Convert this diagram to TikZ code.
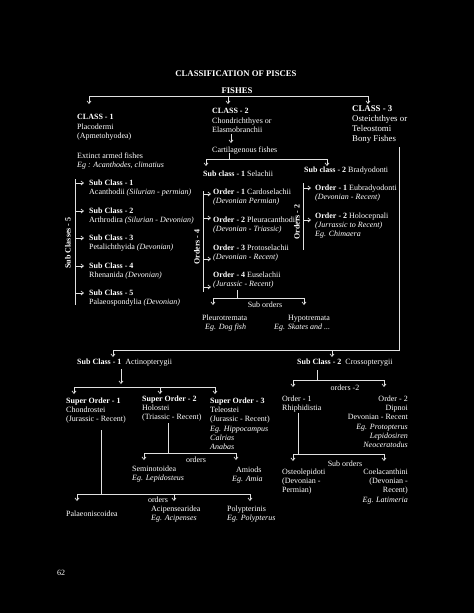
\documentclass[tikz,border=0pt]{standalone}
\usepackage{fontspec}
\setmainfont{Liberation Serif}
\usetikzlibrary{arrows.meta}
\begin{document}
\begin{tikzpicture}[x=1pt,y=-1pt,
 txt/.style={text=white,inner sep=0pt,font=\fontsize{8}{9.3}\selectfont,anchor=north west,yshift=6.51pt,align=left,execute at begin node={\strut}},
 txtr/.style={txt,anchor=north east,align=right},
 txtc/.style={txt,anchor=north,align=center},
 ttl/.style={txtc,font=\fontsize{8.7}{10}\selectfont\bfseries,yshift=0.49pt},
 rot/.style={text=white,inner sep=0pt,anchor=center,rotate=90,font=\fontsize{8}{9.3}\selectfont\bfseries},
 ln/.style={draw=white!88!black,line width=0.7pt},
 arr/.style={ln,-{Straight Barb[length=2.5pt,width=4pt]}},
]
\fill[black] (0,0) rectangle (474,613);
\useasboundingbox (0,0) rectangle (474,613);

% ---------- title ----------
\node[ttl] (title) at (236,76) {CLASSIFICATION OF PISCES};
\node[ttl] (fishes) at (237,93) {FISHES};

\coordinate (fL) at (89,96); \coordinate (fM) at (228,96); \coordinate (fR) at (368,96);
\coordinate (fLe) at (89,104); \coordinate (fMe) at (228,104); \coordinate (fRe) at (368,104);
\draw[ln] (fL) -- (fR);
\draw[arr] (fL) -- (fLe);
\draw[arr] (fM) -- (fMe);
\draw[arr] (fR) -- (fRe);

% ---------- class 1 ----------
\node[txt] (c1) at (77,121) {\textbf{CLASS - 1}\\Placodermi\\(Apmetohyodea)};
\node[txt] (c1x) at (77,159) {Extinct armed fishes\\\textit{Eg : Acanthodes, climatius}};

\coordinate (scT) at (75,179); \coordinate (scB) at (75,305);
\draw[ln] (scT) -- (scB);
\node[rot] (scl) at (68,243) {Sub Classes - 5};
\foreach \i/\y/\a/\b in {1/183/Acanthodii/Silurian - permian,
                         2/211/Arthrodira/Silurian - Devonian,
                         3/238/Petalichthyida/Devonian,
                         4/266/Rhenanida/Devonian,
                         5/293/Palaeospondylia/Devonian}{
  \coordinate (sa\i) at (75,\y);
  \coordinate (sb\i) at (84,\y);
  \node[txt] (sc\i) at (89,\y+3) {\textbf{Sub Class - \i}\\\a\ \textit{(\b)}};
  \draw[arr] (sa\i) -- (sb\i);
}

% ---------- class 2 ----------
\node[txt] (c2) at (212,115) {\textbf{CLASS - 2}\\Chondrichthyes or\\Elasmobranchii};
\node[txt] (cart) at (212,152) {Cartilagenous fishes};
\coordinate (c2a) at (231,134); \coordinate (c2b) at (231,143);
\draw[arr] (c2a) -- (c2b);
\coordinate (ct) at (229,153); \coordinate (cm) at (229,159);
\coordinate (cL) at (206,159); \coordinate (cR) at (327,159);
\coordinate (cLe) at (206,166); \coordinate (cRe) at (327,166);
\draw[ln] (ct) -- (cm);
\draw[ln] (cL) -- (cR);
\draw[arr] (cL) -- (cLe);
\draw[arr] (cR) -- (cRe);

\node[txt] (sel) at (203,176) {\textbf{Sub class - 1} Selachii};
\node[txt] (bra) at (304,172) {\textbf{Sub class - 2} Bradyodonti};

% orders 4
\coordinate (o4T) at (203,191); \coordinate (o4B) at (203,292);
\draw[ln] (o4T) -- (o4B);
\node[rot] (o4l) at (197,247) {Orders - 4};
\node[txt] (o41) at (213,195) {\textbf{Order - 1} Cardoselachii\\\textit{(Devonian Permian)}};
\node[txt] (o42) at (213,223) {\textbf{Order - 2} Pleuracanthodii\\\textit{(Devonian - Triassic)}};
\node[txt] (o43) at (213,251) {\textbf{Order - 3} Protoselachii\\\textit{(Devonian - Recent)}};
\node[txt] (o44) at (213,278) {\textbf{Order - 4} Euselachii\\\textit{(Jurassic - Recent)}};
\foreach \y in {194,218,259,287}{\draw[arr] (203,\y) -- (211,\y);}

% sub orders selachii
\coordinate (soT) at (237,290); \coordinate (soM) at (237,298);
\coordinate (soL) at (213,298); \coordinate (soR) at (304,298);
\coordinate (soLe) at (213,305); \coordinate (soRe) at (304,305);
\draw[ln] (soT) -- (soM);
\draw[ln] (soL) -- (soR);
\draw[arr] (soL) -- (soLe);
\draw[arr] (soR) -- (soRe);
\node[txtc] (sol) at (265,307) {Sub orders};
\node[txt] (pleu) at (202,320) {Pleurotremata};
\node[txt] (pleue) at (205,329) {\textit{Eg. Dog fish}};
\node[txt] (hypo) at (288,320) {Hypotremata};
\node[txt] (hypoe) at (274,329) {\textit{Eg. Skates and ...}};

% orders 2 (Bradyodonti)
\coordinate (o2T) at (303,183); \coordinate (o2B) at (303,250);
\draw[ln] (o2T) -- (o2B);
\node[rot] (o2l) at (297,222) {Orders - 2};
\node[txt] (o21) at (315,191) {\textbf{Order - 1} Eubradyodonti\\\textit{(Devonian - Recent)}};
\node[txt] (o22) at (315,219) {\textbf{Order - 2} Holocepnali\\\textit{(Jurrassic to Recent)}\\\textit{Eg. Chimaera}};
\foreach \y in {188,220}{\draw[arr] (303,\y) -- (311,\y);}

% ---------- class 3 ----------
\node[txt,font=\fontsize{8.8}{10}\selectfont,yshift=0.49pt] (c3) at (352,112) {\textbf{CLASS - 3}\\Osteichthyes or\\Teleostomi\\Bony Fishes};
\coordinate (k1) at (399,147); \coordinate (k2) at (399,350);
\coordinate (kL) at (113,350); \coordinate (kM) at (332,350);
\coordinate (kLe) at (113,357); \coordinate (kMe) at (332,357);
\draw[ln] (k1) -- (k2) -- (kL);
\draw[arr] (kL) -- (kLe);
\draw[arr] (kM) -- (kMe);

\node[txt] (act) at (77,364) {\textbf{Sub Class - 1}\ \ Actinopterygii};
\node[txt] (cro) at (297,364) {\textbf{Sub Class - 2}\ \ Crossopterygii};

% actinopterygii
\coordinate (aT) at (121,369); \coordinate (aE) at (121,384);
\draw[arr] (aT) -- (aE);
\coordinate (aL) at (74,387); \coordinate (aM) at (160,387); \coordinate (aR) at (215,387);
\coordinate (aLe) at (74,394); \coordinate (aMe) at (160,394); \coordinate (aRe) at (215,394);
\draw[ln] (aL) -- (aR);
\draw[arr] (aL) -- (aLe);
\draw[arr] (aM) -- (aMe);
\draw[arr] (aR) -- (aRe);

\node[txt] (so1) at (66,404) {\textbf{Super Order - 1}\\Chondrostei\\(Jurassic - Recent)};
\node[txt] (so2) at (142,402) {\textbf{Super Order - 2}\\Holostei\\(Triassic - Recent)};
\node[txt] (so3) at (210,404) {\textbf{Super Order - 3}\\Teleostei\\(Jurassic - Recent)\\\textit{Eg. Hippocampus}\\\textit{Calrias}\\\textit{Anabas}};

% holostei orders
\coordinate (hT) at (168,423); \coordinate (hM) at (168,453);
\coordinate (hL) at (144,453); \coordinate (hR) at (236,453);
\coordinate (hLe) at (144,460); \coordinate (hRe) at (236,460);
\draw[ln] (hT) -- (hM);
\draw[ln] (hL) -- (hR);
\draw[arr] (hL) -- (hLe);
\draw[arr] (hR) -- (hRe);
\node[txtc] (hol) at (196,462) {orders};
\node[txt] (semi) at (132,472) {Seminotoidea\\\textit{Eg. Lepidosteus}};
\node[txt] (ami) at (236,472) {Amiods};
\node[txt] (amie) at (232,481) {\textit{Eg. Amia}};

% chondrostei orders
\coordinate (chT) at (101,430); \coordinate (chM) at (101,494);
\coordinate (chL) at (77,494); \coordinate (chC) at (174,494); \coordinate (chR) at (250,494);
\coordinate (chLe) at (77,501); \coordinate (chCe) at (174,501); \coordinate (chRe) at (250,501);
\draw[ln] (chT) -- (chM);
\draw[ln] (chL) -- (chR);
\draw[arr] (chL) -- (chLe);
\draw[arr] (chC) -- (chCe);
\draw[arr] (chR) -- (chRe);
\node[txtc] (chl) at (158,502) {orders};
\node[txt] (pal) at (66,516) {Palaeoniscoidea};
\node[txt] (aci) at (151,512) {Acipensearidea\\\textit{Eg. Acipenses}};
\node[txt] (pol) at (227,512) {Polypterinis\\\textit{Eg. Polypterus}};

% crossopterygii
\coordinate (xT) at (317,370); \coordinate (xM) at (317,380);
\coordinate (xL) at (293,380); \coordinate (xR) at (384,380);
\coordinate (xLe) at (293,387); \coordinate (xRe) at (384,387);
\draw[ln] (xT) -- (xM);
\draw[ln] (xL) -- (xR);
\draw[arr] (xL) -- (xLe);
\draw[arr] (xR) -- (xRe);
\node[txtc] (xol) at (345,390) {orders -2};
\node[txt] (rhi) at (282,402) {Order - 1\\Rhiphidistia};
\node[txtr] (dip) at (408,402) {Order - 2\\Dipnoi\\Devonian - Recent\\\textit{Eg. Protopterus}\\\textit{Lepidosiren}\\\textit{Neoceratodus}};

\coordinate (rT) at (298,413); \coordinate (rM) at (298,454);
\coordinate (rL) at (293,454); \coordinate (rR) at (384,454);
\coordinate (rLe) at (293,461); \coordinate (rRe) at (384,461);
\draw[ln] (rT) -- (rM);
\draw[ln] (rL) -- (rR);
\draw[arr] (rL) -- (rLe);
\draw[arr] (rR) -- (rRe);
\node[txtc] (rol) at (345,466) {Sub orders};
\node[txt] (ost) at (282,475) {Osteolepidoti\\(Devonian -\\Permian)};
\node[txtr] (coe) at (408,475) {Coelacanthini\\(Devonian -\\Recent)\\\textit{Eg. Latimeria}};

% page number
\node[txt] (page) at (57,575) {62};
\end{tikzpicture}
\end{document}
